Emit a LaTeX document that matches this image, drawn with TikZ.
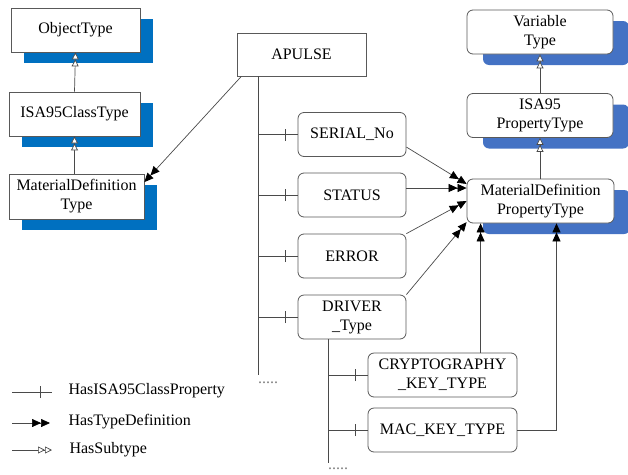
\documentclass[tikz,border=0pt]{standalone}
\usepackage{xcolor}
\usepackage{fontspec}
\setmainfont{Liberation Serif}
\usepackage{tikz}
\usetikzlibrary{arrows.meta,shadows,decorations.markings}
\definecolor{leftblue}{HTML}{0070C0}
\definecolor{rightblue}{HTML}{4472C4}
\definecolor{linegray}{HTML}{4A4A4A}

\begin{document}
\begin{tikzpicture}[x=1pt,y=-1pt,
        font=\fontsize{16}{19}\selectfont,
        box/.style={draw=gray!70!black, fill=white, align=center, minimum height=44pt, inner sep=2pt, line width=0.8pt},
        typebox/.style={box, general shadow={fill=leftblue, shadow xshift=13pt, shadow yshift=-11pt}},
        proptype/.style={box, rounded corners=6pt, general shadow={fill=rightblue, shadow xshift=16pt, shadow yshift=-11pt}},
        propbox/.style={box, rounded corners=6pt},
        conn/.style={draw=linegray, line width=0.7pt},
        typedef/.style={conn, -{Triangle[length=9pt,width=8pt,color=black]Triangle[length=9pt,width=8pt,color=black]}},
        subtype/.style={conn, -{Triangle[open,length=7pt,width=7pt,fill=white]Triangle[open,length=7pt,width=7pt,fill=white]}},
        hasprop/.style={conn, postaction={decorate, decoration={markings,
            mark=at position -12pt with {\draw[linegray, line width=0.7pt] (0,-6pt) -- (0,6pt);}}}},
        dotted text/.style={text=gray, inner sep=0pt}]
    \useasboundingbox (0,0) rectangle (628,474);

    % object types
    \node[typebox, minimum width=129pt] (obj) at (75.5,30) {ObjectType};
    \node[typebox, minimum width=131pt] (isa) at (74.5,114) {ISA95ClassType};
    \node[typebox, minimum width=135pt, minimum height=45pt] (mdt) at (76.5,196.5) {MaterialDefinition\\Type};

    % variable types
    \node[proptype, minimum width=146pt] (var) at (540,32) {Variable\\Type};
    \node[proptype, minimum width=146pt] (isapt) at (540,115.5) {ISA95\\PropertyType};
    \node[proptype, minimum width=147pt] (mdpt) at (540.5,201) {MaterialDefinition\\PropertyType};

    % instance
    \node[box, minimum width=129pt, minimum height=43pt] (apulse) at (301.5,54.5) {APULSE};
    \node[propbox, minimum width=108pt] (serial) at (352,134.5) {SERIAL\_No};
    \node[propbox, minimum width=108pt] (status) at (352,195) {STATUS};
    \node[propbox, minimum width=108pt] (error) at (352,256) {ERROR};
    \node[propbox, minimum width=108pt] (driver) at (352,317) {DRIVER\\\_Type};
    \node[propbox, minimum width=149pt] (crypto) at (442.5,375) {CRYPTOGRAPHY\\\_KEY\_TYPE};
    \node[propbox, minimum width=149pt] (mac) at (442.5,430) {MAC\_KEY\_TYPE};

    % subtypes
    \draw[subtype] (isa.north) -- (obj.south);
    \draw[subtype] (mdt.north -| isa.north) -- (isa.south);
    \draw[subtype] (isapt.north) -- (var.south);
    \draw[subtype] (mdpt.north -| isapt.north) -- (isapt.south);

    % properties
    \coordinate (trunk) at (258,375);
    \draw[conn] (apulse.south -| trunk) -- (trunk);
    \draw[hasprop] (serial.west -| trunk) -- (serial.west);
    \draw[hasprop] (status.west -| trunk) -- (status.west);
    \draw[hasprop] (error.west -| trunk) -- (error.west);
    \draw[hasprop] (driver.west -| trunk) -- (driver.west);
    \node[dotted text] (dots) at (268,383) {.....};

    \coordinate (subtrunk) at (328,463);
    \draw[conn] (driver.south -| subtrunk) -- (subtrunk);
    \draw[hasprop] (crypto.west -| subtrunk) -- (crypto.west);
    \draw[hasprop] (mac.west -| subtrunk) -- (mac.west);
    \node[dotted text] (subdots) at (338,469) {.....};

    % type definitions
    \draw[typedef] (apulse.200) -- (mdt.12);
    \draw[typedef] (serial.-13) -- (mdpt.167);
    \draw[typedef] ([yshift=7pt]status.east) -- ([yshift=7pt]status.east -| mdpt.west);
    \draw[typedef] (error.north east) -- (mdpt.west);
    \draw[typedef] (driver.north east) -- (mdpt.196);
    \draw[typedef] ([xshift=14pt]mdpt.south west |- crypto.north) -- ([xshift=14pt]mdpt.south west);
    \draw[typedef] (mac.east) -| ([xshift=16pt]mdpt.south);

    % legend
    \coordinate (propa) at (12,392);
    \coordinate (propb) at (52,392);
    \draw[hasprop] (propa) -- (propb);
    \node[right] (proptxt) at (65,391) {HasISA95ClassProperty};
    \coordinate (defa) at (12,423);
    \coordinate (defb) at (50,423);
    \draw[typedef] (defa) -- (defb);
    \node[right] (deftxt) at (65,422) {HasTypeDefinition};
    \coordinate (suba) at (12,450);
    \coordinate (subb) at (52,450);
    \draw[subtype] (suba) -- (subb);
    \node[right] (subtxt) at (66,450) {HasSubtype};
\end{tikzpicture}
\end{document}
